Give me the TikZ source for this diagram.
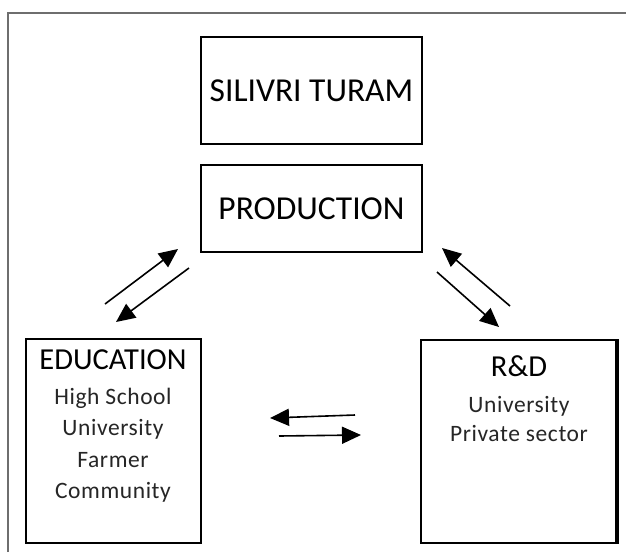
\documentclass[tikz,border=0pt]{standalone}
\usepackage{fontspec}
\setmainfont{Carlito}
\newfontfamily\subfont[LetterSpace=2.5]{Carlito}
\usetikzlibrary{arrows.meta}
\definecolor{framegray}{RGB}{110,110,110}
\tikzset{
  box/.style={draw=black, line width=2pt, rectangle, inner sep=0pt},
  bigtxt/.style={font=\fontsize{33.5}{33.5}\selectfont, inner sep=0pt},
  headtxt/.style={font=\fontsize{30.5}{30.5}\selectfont, inner sep=0pt, anchor=base},
  subtxt/.style={font=\subfont\fontsize{23.5}{23.5}\selectfont, text=black!85, inner sep=0pt, anchor=base},
  arr/.style={line width=1.6pt, -{Triangle[length=19pt,width=17pt]}}
}
\begin{document}
\begin{tikzpicture}[x=1pt,y=-1pt]
\fill[white] (0,0) rectangle (626,552);
\useasboundingbox (0,0) rectangle (626,552);
% outer frame
\draw[framegray, line width=1.6pt] (8,552) -- (8,13) -- (626,13);
% boxes
\node[box, minimum width=221pt, minimum height=107pt] (silivri) at (311.5,90.5) {};
\node[bigtxt] (silivritxt) at (311.5,91) {SILIVRI TURAM};
\node[box, minimum width=221pt, minimum height=87pt] (prod) at (311.5,208.5) {};
\node[bigtxt] (prodtxt) at (311.5,209) {PRODUCTION};
\node[box, minimum width=175pt, minimum height=204pt] (edu) at (113.5,441) {};
\node[headtxt] (eduh) at (113,369) {EDUCATION};
\node[subtxt] (edu1) at (113,404) {High School};
\node[subtxt] (edu2) at (113,435) {University};
\node[subtxt] (edu3) at (113,467) {Farmer};
\node[subtxt] (edu4) at (113,498) {Community};
\node[box, minimum width=195pt, minimum height=203pt] (rd) at (518.5,441.5) {};
\draw[line width=3pt] (rd.north east) -- (rd.south east);
\node[headtxt] (rdh) at (519,376) {R\&D};
\node[subtxt] (rd1) at (519,412) {University};
\node[subtxt] (rd2) at (519,441) {Private sector};
% arrow end points
\coordinate (a1s) at (105,304); \coordinate (a1e) at (178,249);
\coordinate (a2s) at (189,268); \coordinate (a2e) at (116,322);
\coordinate (a3s) at (510,306); \coordinate (a3e) at (442,248);
\coordinate (a4s) at (437,272); \coordinate (a4e) at (499,327);
\coordinate (a5s) at (355,415); \coordinate (a5e) at (270,418);
\coordinate (a6s) at (279,436); \coordinate (a6e) at (361,435);
\draw[arr] (a1s) -- (a1e);
\draw[arr] (a2s) -- (a2e);
\draw[arr] (a3s) -- (a3e);
\draw[arr] (a4s) -- (a4e);
\draw[arr] (a5s) -- (a5e);
\draw[arr] (a6s) -- (a6e);
\end{tikzpicture}
\end{document}
